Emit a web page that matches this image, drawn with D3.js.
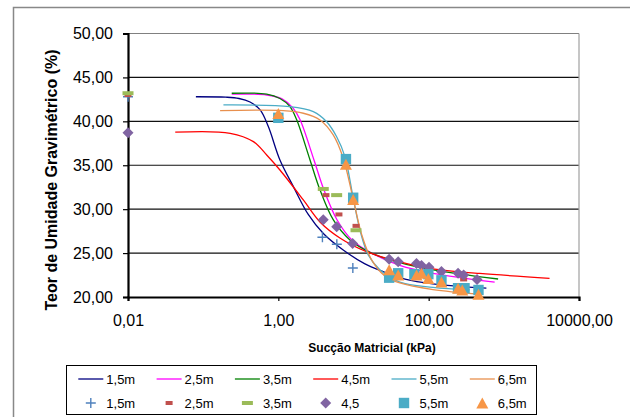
<!DOCTYPE html>
<html>
<head>
<meta charset="utf-8">
<script src="https://cdn.jsdelivr.net/npm/d3@7"></script>
<style>
  body { margin: 0; background: #fff; }
  svg { display: block; font-family: "Liberation Sans", Arial, sans-serif; }
</style>
</head>
<body>
<div id="chart"></div>
<script>
// series names
var lineLabels = ["1,5m", "2,5m", "3,5m", "4,5m", "5,5m", "6,5m"];
var pointLabels = ["1,5m", "2,5m", "3,5m", "4,5", "5,5m", "6,5m"];

// fitted curves [suction kPa, moisture %]
var fit15 = [[0.08, 42.8], [0.2, 42.75], [0.3, 42.6], [0.42, 42.2], [0.573, 41.3], [0.736, 39.4], [1.05, 35.6], [1.58, 32.6], [2.5, 29.4], [4.0, 27.2], [7.3, 25.35], [14, 23.8], [24.8, 22.9], [50, 22.0], [114, 21.5], [586, 21.0]];
var fit25 = [[0.24, 43.1], [0.70, 43.0], [1.12, 42.55], [1.57, 41.5], [1.94, 40.2], [2.98, 35.6], [4.04, 32.2], [6.03, 28.8], [9.53, 26.5], [17.4, 25.0], [41.3, 23.6], [114, 22.7], [755, 21.7]];
var fit35 = [[0.24, 43.2], [0.70, 43.1], [1.05, 42.6], [1.42, 41.7], [1.75, 40.2], [2.64, 35.6], [3.58, 32.2], [5.37, 28.8], [8.96, 26.5], [17.4, 25.0], [41.3, 23.9], [114, 23.1], [839, 22.05]];
var fit45 = [[0.0425, 38.76], [0.229, 38.64], [0.466, 37.69], [0.70, 36.17], [1.05, 34.46], [2.15, 31.05], [3.58, 28.54], [6.59, 26.72], [14.9, 25.16], [41.3, 23.99], [113, 23.19], [477, 22.68], [4055, 22.13]];
var fit55 = [[0.186, 41.87], [1.42, 41.67], [2.92, 41.1], [4.39, 39.95], [5.97, 38.24], [7.69, 35.98], [9.9, 31.3], [12.2, 27.6], [15.7, 24.8], [22.4, 23.1], [41.3, 21.7], [114, 21.1], [352, 20.8]];
var fit65 = [[0.168, 41.22], [1.16, 41.22], [2.15, 40.92], [3.58, 40.16], [5.37, 38.45], [7.3, 35.8], [9.9, 31.16], [12.9, 27.06], [17.5, 24.2], [26.1, 22.4], [41.3, 21.6], [114, 20.85], [477, 20.34]];

// measured points
var pts15 = [[0.01, 42.8], [3.86, 26.8], [6.0, 26.0], [9.8, 23.3]];
var pts25 = [[0.01, 43.0], [4.3, 31.6], [6.4, 29.4], [10.8, 28.1], [292, 22.0]];
var pts35 = [[0.01, 43.2], [3.96, 32.3], [5.97, 31.6], [10.8, 27.6]];
var pts45 = [[0.01, 38.7], [3.96, 28.8], [5.97, 28.0], [9.73, 26.1], [29.8, 24.3], [39.3, 24.0], [68.9, 23.8], [80.3, 23.6], [101, 23.4], [148, 22.9], [246, 22.7], [292, 22.5], [440, 22.0]];
var pts55 = [[1.0, 40.4], [7.93, 35.7], [9.9, 31.3], [29.8, 22.2], [39.3, 22.7], [64.6, 22.6], [99, 22.6], [148, 21.9], [246, 21.0], [300, 21.0], [460, 20.8]];
var pts65 = [[1.0, 40.9], [7.93, 35.1], [9.9, 31.1], [29.8, 23.1], [39.3, 22.5], [69, 22.5], [80.3, 22.7], [99, 22.1], [148, 21.7], [246, 21.0], [280, 20.8], [460, 20.3]];

var xTicks = [0.01, 1, 100, 10000];
var yTicks = [20, 25, 30, 35, 40, 45, 50];

var fits = [fit15, fit25, fit35, fit45, fit55, fit65];
var pts = [pts15, pts25, pts35, pts45, pts55, pts65];
var lineColors = ["#000080", "#ff00ff", "#008000", "#ff0000", "#4bacc6", "#e8904e"];
var ptColors = ["#4f81bd", "#c0504d", "#9bbb59", "#8064a2", "#4bacc6", "#f79646"];

var svg = d3.select("#chart").append("svg")
  .attr("width", 630)
  .attr("height", 417);

// outer chart frame
svg.append("path")
  .attr("d", "M13.5,420V7.5H640")
  .attr("fill", "none")
  .attr("stroke", "#888")
  .attr("stroke-width", 1.5);

var x = d3.scaleLog().domain([0.01, 10000]).range([128, 579]);
var y = d3.scaleLinear().domain([20, 50]).range([297, 33.5]);

var comma = function (v) { return d3.format(".2f")(v).replace(".", ","); };

// gridlines
svg.append("g")
  .selectAll("line")
  .data(yTicks.slice(1))
  .enter()
  .append("line")
  .attr("x1", 128).attr("x2", 579)
  .attr("y1", function (d) { return y(d); })
  .attr("y2", function (d) { return y(d); })
  .attr("stroke", function (d) { return d === 50 ? "#808080" : "#111"; })
  .attr("stroke-width", 1.2);

// right border of plot area
svg.append("line")
  .attr("x1", 579).attr("x2", 579)
  .attr("y1", y(50)).attr("y2", y(20))
  .attr("stroke", "#a0a0a0").attr("stroke-width", 1.2);

// axes
var yAxis = svg.append("g")
  .attr("transform", "translate(128,0)")
  .call(d3.axisLeft(y).tickValues(yTicks).tickFormat(comma).tickSize(5).tickPadding(10));
var xAxis = svg.append("g")
  .attr("transform", "translate(0,297)")
  .call(d3.axisBottom(x).tickValues(xTicks).tickFormat(comma).tickSize(4).tickPadding(13.5));

[xAxis, yAxis].forEach(function (a) {
  a.select(".domain").attr("stroke", "#000").attr("stroke-width", 2.2);
  a.selectAll(".tick line").attr("stroke", "#000").attr("stroke-width", 1.2);
  a.selectAll(".tick text")
    .attr("fill", "#000")
    .style("font-size", "16px")
    .style("font-family", "'Liberation Sans', Arial, sans-serif");
});

// curves
var line = d3.line()
  .x(function (d) { return x(d[0]); })
  .y(function (d) { return y(d[1]); })
  .curve(d3.curveCatmullRom.alpha(0.5));

svg.append("g")
  .selectAll("path")
  .data(fits)
  .enter()
  .append("path")
  .attr("d", line)
  .attr("fill", "none")
  .attr("stroke", function (d, i) { return lineColors[i]; })
  .attr("stroke-width", 1.3);

// marker shapes
function drawMarker(g, k, cx, cy) {
  var c = ptColors[k];
  if (k === 0) {
    g.append("path")
      .attr("d", "M" + (cx - 5) + "," + cy + "H" + (cx + 5) + "M" + cx + "," + (cy - 5) + "V" + (cy + 5))
      .attr("stroke", c).attr("stroke-width", 1.4).attr("fill", "none");
  } else if (k === 1) {
    g.append("rect").attr("x", cx - 3.5).attr("y", cy - 2).attr("width", 7).attr("height", 4).attr("fill", c);
  } else if (k === 2) {
    g.append("rect").attr("x", cx - 5.5).attr("y", cy - 2).attr("width", 11).attr("height", 4).attr("fill", c);
  } else if (k === 3) {
    g.append("path")
      .attr("d", "M" + cx + "," + (cy - 5.5) + "L" + (cx + 5.5) + "," + cy + "L" + cx + "," + (cy + 5.5) + "L" + (cx - 5.5) + "," + cy + "Z")
      .attr("fill", c);
  } else if (k === 4) {
    g.append("rect").attr("x", cx - 5.2).attr("y", cy - 5.2).attr("width", 10.4).attr("height", 10.4).attr("fill", c);
  } else {
    g.append("path")
      .attr("d", "M" + cx + "," + (cy - 5.5) + "L" + (cx + 6) + "," + (cy + 5.5) + "L" + (cx - 6) + "," + (cy + 5.5) + "Z")
      .attr("fill", c);
  }
}

var markerGroup = svg.append("g");
pts.forEach(function (series, k) {
  series.forEach(function (d) {
    drawMarker(markerGroup, k, x(d[0]), y(d[1]));
  });
});

// axis titles
svg.append("text")
  .attr("transform", "translate(57,180) rotate(-90)")
  .attr("text-anchor", "middle")
  .style("font-size", "16px")
  .style("font-weight", "bold")
  .text("Teor de Umidade Gravimétrico  (%)");

svg.append("text")
  .attr("x", 372)
  .attr("y", 352)
  .attr("text-anchor", "middle")
  .style("font-size", "12px")
  .style("font-weight", "bold")
  .text("Sucção Matricial (kPa)");

// legend
var legend = svg.append("g");
legend.append("rect")
  .attr("x", 66.5).attr("y", 365.5)
  .attr("width", 470).attr("height", 49)
  .attr("fill", "#fff").attr("stroke", "#000").attr("stroke-width", 1);

lineLabels.forEach(function (lab, i) {
  var x0 = 78.3 + i * 78.3;
  legend.append("line")
    .attr("x1", x0).attr("x2", x0 + 25)
    .attr("y1", 379).attr("y2", 379)
    .attr("stroke", lineColors[i]).attr("stroke-width", 1.3);
  legend.append("text")
    .attr("x", x0 + 28).attr("y", 383.5)
    .style("font-size", "13px")
    .text(lab);
});

pointLabels.forEach(function (lab, i) {
  var x0 = 78.3 + i * 78.3;
  drawMarker(legend, i, x0 + 12.5, 403);
  legend.append("text")
    .attr("x", x0 + 28).attr("y", 407.5)
    .style("font-size", "13px")
    .text(lab);
});
</script>
</body>
</html>
